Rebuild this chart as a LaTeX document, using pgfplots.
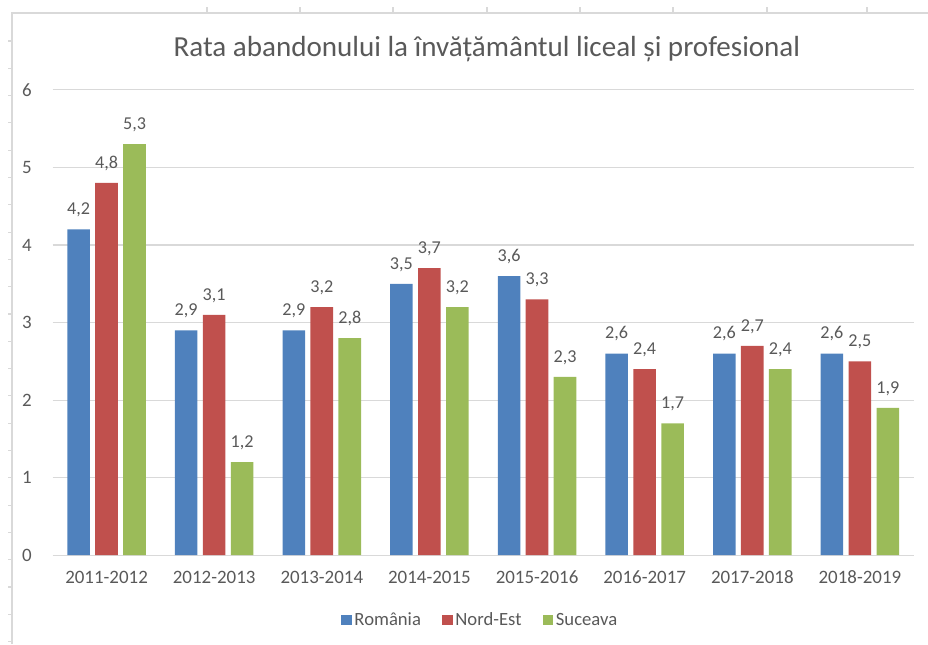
\documentclass[border=0pt]{standalone}
\usepackage{pgfplots}
\pgfplotsset{compat=1.18}
\usepackage{fontspec}
\setmainfont{Carlito}
\definecolor{cblue}{HTML}{4F81BD}
\definecolor{cred}{HTML}{C0504D}
\definecolor{cgreen}{HTML}{9BBB59}
\definecolor{ctext}{HTML}{595959}
\definecolor{cgrid}{HTML}{D9D9D9}
\begin{document}
\begin{tikzpicture}[x=0.75pt,y=0.75pt]
\useasboundingbox (0,0) rectangle (928,644);
% spreadsheet frame around the chart
\draw[cgrid,line width=0.8pt] (12,0) -- (12,631) -- (928,631);
\foreach \xx in {207,300,393,487,580,673,767,867} {\draw[cgrid,line width=0.8pt] (\xx,631) -- (\xx,637);}
\foreach \k in {0,...,22} {\draw[cgrid,line width=0.8pt] (8,{644-41-27.3*\k}) -- (12,{644-41-27.3*\k});}
% title
\node[anchor=base,text=ctext,font=\fontsize{21.8}{26}\selectfont,inner sep=0pt] at (487,{644-57}) {Rata abandonului la învățământul liceal și profesional};
\begin{axis}[
  at={(49,114.5)}, anchor=south west,
  scale only axis, width=645.75pt, height=349pt,
  ybar, bar width=0.21,
  xmin=-0.5, xmax=7.5, ymin=0, ymax=6,
  xtick=data,
  xticklabels={2011-2012,2012-2013,2013-2014,2014-2015,2015-2016,2016-2017,2017-2018,2018-2019},
  ytick={0,1,2,3,4,5,6},
  ymajorgrids, grid style={cgrid,line width=0.8pt},
  axis line style={draw=none},
  major tick length=0pt,
  tick label style={text=ctext,font=\fontsize{14.2}{17}\selectfont},
  yticklabel style={inner sep=0pt,xshift=-15.5pt},
  xticklabel style={inner sep=0pt,yshift=-11.5pt},
  /pgf/number format/assume math mode=true,
  nodes near coords,
  nodes near coords style={text=ctext,font=\fontsize{13.6}{16}\selectfont,anchor=base,inner sep=0pt,yshift=11pt,
    /pgf/number format/.cd,use comma,fixed,fixed zerofill,precision=1,assume math mode=true},
  legend columns=3,
  legend style={draw=none,fill=none,at={(0.497,-0.1394)},anchor=center,
    font=\fontsize{14}{17}\selectfont,text=ctext,
    /tikz/every even column/.append style={column sep=14pt},
    legend cell align=left,inner sep=0pt},
  legend image code/.code={\fill[#1,draw=none] (0pt,-3.9pt) rectangle (7.8pt,3.9pt);},
  clip=false,
]
\addplot[fill=cblue,draw=none,bar shift=-0.26] coordinates {(0,4.2) (1,2.9) (2,2.9) (3,3.5) (4,3.6) (5,2.6) (6,2.6) (7,2.6)};
\addplot[fill=cred,draw=none,bar shift=0] coordinates {(0,4.8) (1,3.1) (2,3.2) (3,3.7) (4,3.3) (5,2.4) (6,2.7) (7,2.5)};
\addplot[fill=cgreen,draw=none,bar shift=0.26] coordinates {(0,5.3) (1,1.2) (2,2.8) (3,3.2) (4,2.3) (5,1.7) (6,2.4) (7,1.9)};
\legend{România,Nord-Est,Suceava}
\end{axis}
\end{tikzpicture}
\end{document}
